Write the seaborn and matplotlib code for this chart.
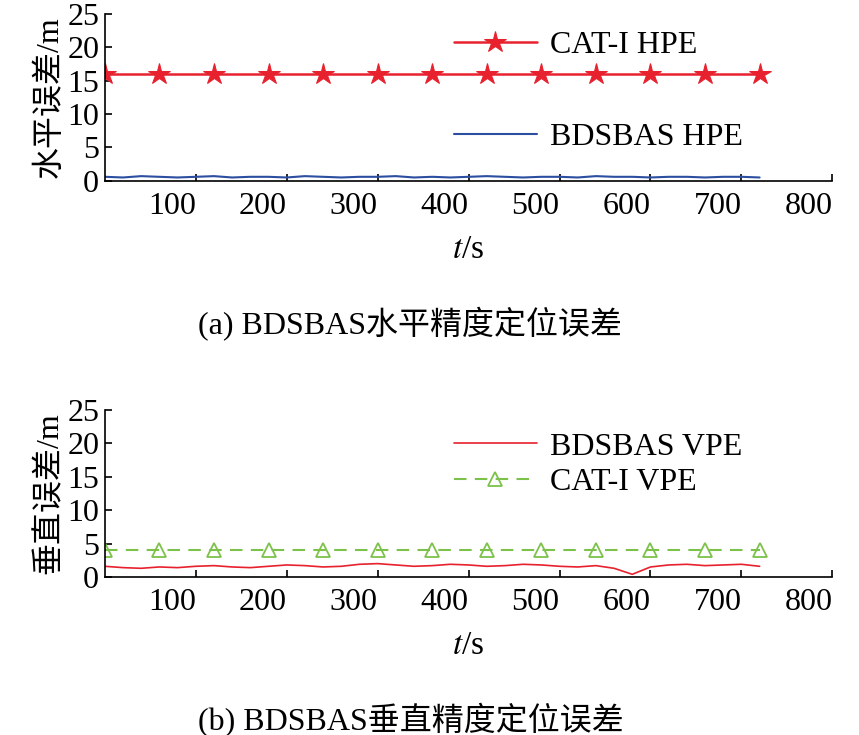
import matplotlib
matplotlib.use("Agg")
import matplotlib.pyplot as plt
import seaborn as sns
import numpy as np
import pandas as pd

sns.set_theme(style="ticks")
plt.rcParams['font.family'] = ['Liberation Serif', 'Noto Sans CJK SC']
plt.rcParams['mathtext.fontset'] = 'stix'
plt.rcParams['text.color'] = 'black'
plt.rcParams['axes.labelcolor'] = 'black'
plt.rcParams['xtick.color'] = 'black'
plt.rcParams['ytick.color'] = 'black'
plt.rcParams['axes.edgecolor'] = 'black'

t = np.arange(0, 721, 20)
hpe = [0.6, 0.5, 0.7, 0.6, 0.5, 0.6, 0.7, 0.5, 0.6, 0.6, 0.5, 0.7, 0.6, 0.5, 0.6, 0.6,
       0.7, 0.5, 0.6, 0.5, 0.6, 0.7, 0.6, 0.5, 0.6, 0.6, 0.5, 0.7, 0.6, 0.6, 0.5, 0.6,
       0.6, 0.5, 0.6, 0.6, 0.5]
vpe = [1.6, 1.4, 1.3, 1.5, 1.4, 1.6, 1.7, 1.5, 1.4, 1.6, 1.8, 1.7, 1.5, 1.6, 1.9, 2.0,
       1.8, 1.6, 1.7, 1.9, 1.8, 1.6, 1.7, 1.9, 1.8, 1.6, 1.5, 1.7, 1.3, 0.4, 1.5, 1.8,
       1.9, 1.7, 1.8, 1.9, 1.6]
cat_t = np.arange(0, 721, 60)
cat_h = [16.0] * len(cat_t)
cat_v = [4.0] * len(cat_t)

red = "#e8212e"
blue = "#2b4ea0"
green = "#7cc24a"

fig = plt.figure(figsize=(8.59, 7.35), dpi=100)
ax1 = fig.add_axes([0.122, 0.754, 0.847, 0.227])
ax2 = fig.add_axes([0.122, 0.215, 0.847, 0.227])

df_h = pd.DataFrame({"t": t, "v": hpe})
df_v = pd.DataFrame({"t": t, "v": vpe})
df_ch = pd.DataFrame({"t": cat_t, "v": cat_h})
df_cv = pd.DataFrame({"t": cat_t, "v": cat_v})

sns.lineplot(data=df_ch, x="t", y="v", ax=ax1, color=red, lw=1.8, marker="*",
             markersize=16, markeredgecolor=red, label="CAT-I HPE", legend=False)
sns.lineplot(data=df_h, x="t", y="v", ax=ax1, color=blue, lw=1.5,
             label="BDSBAS HPE", legend=False)
sns.lineplot(data=df_v, x="t", y="v", ax=ax2, color=red, lw=1.2,
             label="BDSBAS VPE", legend=False)
sns.lineplot(data=df_cv, x="t", y="v", ax=ax2, color=green, lw=1.5, ls=(0, (6, 4)),
             marker="^", markersize=10, markerfacecolor="none", markeredgecolor=green,
             markeredgewidth=1.3, label="CAT-I VPE", legend=False)

lkw = dict(frameon=False, fontsize=23, handlelength=2.6, handletextpad=0.4)
h1, l1 = ax1.get_legend_handles_labels()
leg = ax1.legend([h1[0]], [l1[0]], loc="upper left", bbox_to_anchor=(0.44, 1.07), **lkw)
ax1.add_artist(leg)
ax1.legend([h1[1]], [l1[1]], loc="upper left", bbox_to_anchor=(0.44, 0.52), **lkw)
ax2.legend(loc="upper left", bbox_to_anchor=(0.44, 1.04), labelspacing=0.2, **lkw)

for ax, ylab, cap in [(ax1, "水平误差/m", "(a) BDSBAS水平精度定位误差"),
                      (ax2, "垂直误差/m", "(b) BDSBAS垂直精度定位误差")]:
    ax.set_xlim(0, 800)
    ax.set_ylim(0, 25)
    ax.set_xticks([100, 200, 300, 400, 500, 600, 700, 800])
    ax.set_yticks([0, 5, 10, 15, 20, 25])
    ax.tick_params(direction="in", labelsize=23, length=5, width=1.2, pad=8)
    ax.tick_params(axis="y", pad=4)
    for lab in ax.get_xticklabels():
        lab.set_horizontalalignment("right")
    sns.despine(ax=ax)
    ax.spines["left"].set_linewidth(1.2)
    ax.spines["bottom"].set_linewidth(1.2)
    ax.set_ylabel(ylab, fontsize=23, labelpad=2)
    ax.set_xlabel("$t$/s", fontsize=24, labelpad=10)
    ax.text(0.42, -0.86, cap, transform=ax.transAxes, ha="center", va="center",
            fontsize=23)

fig.savefig("out.png", dpi=100)
